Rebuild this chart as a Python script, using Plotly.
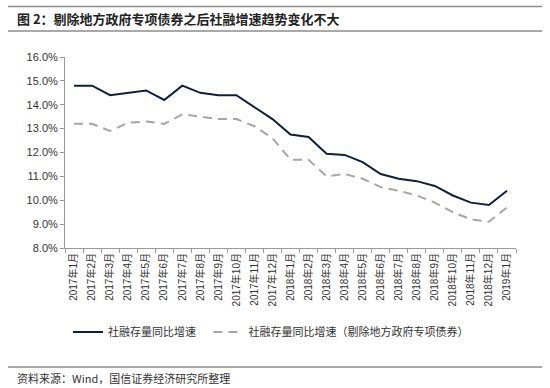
import plotly.graph_objects as go

months = [f"2017年{m}月" for m in range(1, 13)] + [f"2018年{m}月" for m in range(1, 13)] + ["2019年1月"]

tsf_growth = [14.8, 14.8, 14.4, 14.5, 14.6, 14.2, 14.8, 14.5, 14.4, 14.4, 13.9, 13.4,
              12.75, 12.65, 11.95, 11.9, 11.6, 11.1, 10.9, 10.8, 10.6, 10.2, 9.9, 9.8, 10.4]
tsf_ex_special = [13.2, 13.2, 12.9, 13.25, 13.3, 13.2, 13.6, 13.5, 13.4, 13.4, 13.1, 12.6,
                  11.7, 11.7, 11.0, 11.1, 10.9, 10.55, 10.4, 10.2, 9.9, 9.5, 9.2, 9.1, 9.7]

y_ticks = [8, 9, 10, 11, 12, 13, 14, 15, 16]
y_tick_labels = [f"{v:.1f}%" for v in y_ticks]

name1 = "社融存量同比增速\u00a0\u00a0\u00a0"
name2 = "社融存量同比增速（剔除地方政府专项债券）"
title_text = "图 2：剔除地方政府专项债券之后社融增速趋势变化不大"
source_text = "资料来源：Wind，国信证券经济研究所整理"

FONT = "Liberation Sans, Arial, Noto Sans CJK SC, sans-serif"
CJK = "Noto Sans CJK SC, sans-serif"

fig = go.Figure()
fig.add_trace(go.Scatter(x=months, y=tsf_growth, mode="lines", name=name1,
                         line=dict(color="#0f1f3d", width=2)))
fig.add_trace(go.Scatter(x=months, y=tsf_ex_special, mode="lines", name=name2,
                         line=dict(color="#a6a6a6", width=2, dash="9px,6px")))

L, R, T, B = 65, 34, 57, 140
W, H = 550, 388
pw, ph = W - L - R, H - T - B

def px(xp):
    return (xp - L) / pw

def py(yp):
    return (H - B - yp) / ph

fig.update_layout(
    width=W, height=H,
    margin=dict(l=L, r=R, t=T, b=B, autoexpand=False),
    paper_bgcolor="white", plot_bgcolor="white",
    font=dict(family=FONT, size=11, color="#333333"),
    showlegend=True,
    legend=dict(orientation="h", x=px(68), y=py(332), xanchor="left", yanchor="middle",
                font=dict(family=CJK, size=11, color="#333333"),
                bgcolor="rgba(0,0,0,0)"),
    xaxis=dict(type="category", range=[-0.5, 24.5], tickangle=-90,
               showline=True, linecolor="#9a9a9a", linewidth=1,
               ticks="outside", ticklen=4, tickcolor="#9a9a9a", tickson="boundaries",
               showgrid=False, zeroline=False,
               tickfont=dict(family=FONT, size=10, color="#333333")),
    yaxis=dict(range=[8, 16], tickvals=y_ticks, ticktext=y_tick_labels,
               showline=True, linecolor="#9a9a9a", linewidth=1,
               ticks="outside", ticklen=4, tickcolor="#9a9a9a",
               showgrid=False, zeroline=False,
               tickfont=dict(family=FONT, size=11, color="#333333")),
)

for ypix in (6.5, 31, 367):
    fig.add_shape(type="line", xref="paper", yref="paper",
                  x0=px(8), x1=px(542), y0=py(ypix), y1=py(ypix),
                  line=dict(color="#8c8c8c", width=1.5))

fig.add_annotation(text=f"<b>{title_text}</b>", xref="paper", yref="paper",
                   x=px(15), y=py(19), xanchor="left", yanchor="middle", showarrow=False,
                   font=dict(family=CJK, size=13, color="#222222"))
fig.add_annotation(text=source_text, xref="paper", yref="paper",
                   x=px(15), y=py(378), xanchor="left", yanchor="middle", showarrow=False,
                   font=dict(family=CJK, size=11, color="#333333"))

fig.write_html("out.html", config={"displayModeBar": False},
               post_script="document.body.style.margin='0';document.body.style.overflow='hidden';")
